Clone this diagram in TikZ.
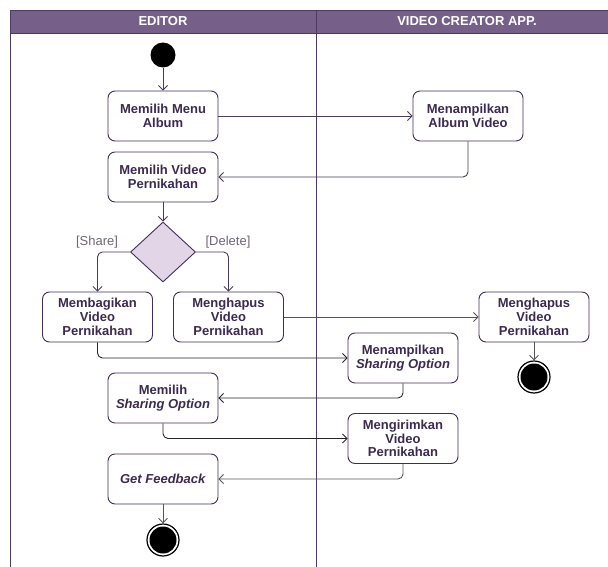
\documentclass[tikz,border=0pt]{standalone}
\usepackage{fontspec}
\setmainfont{Liberation Sans}
\usetikzlibrary{arrows.meta,shapes.geometric}

\definecolor{headfill}{HTML}{76608A}
\definecolor{lanec}{HTML}{4E3B63}
\definecolor{boxc}{HTML}{432D57}
\definecolor{txtc}{HTML}{3D2A50}
\definecolor{diafill}{HTML}{E1D5E7}
\definecolor{lineP}{HTML}{4A3A5C}
\definecolor{lineK}{HTML}{262626}
\definecolor{lineG}{HTML}{555555}
\definecolor{labc}{HTML}{6E6478}

\tikzset{
  box/.style={draw=boxc, line width=0.9pt, rounded corners=7pt, fill=white,
    minimum width=110pt, minimum height=50pt, inner sep=0pt, align=center,
    text=txtc, font=\bfseries\fontsize{13}{13.8}\selectfont},
  decision/.style={draw=boxc, line width=0.9pt, fill=diafill, diamond,
    minimum width=65pt, minimum height=60pt, inner sep=0pt},
  startdot/.style={circle, fill=black, minimum size=25pt, inner sep=0pt},
  enddot/.style={circle, draw=black, line width=1.2pt, fill=white,
    minimum size=32pt, inner sep=0pt,
    path picture={\fill[black] (path picture bounding box.center) circle (13.5pt);}},
  conn/.style={line width=0.9pt, rounded corners=5pt,
    -{Straight Barb[length=4.5pt,width=9pt,line width=0.9pt]}},
  guard/.style={text=labc, font=\fontsize{13}{14}\selectfont, inner sep=0pt},
  lanehead/.style={text=white, font=\bfseries\fontsize{13}{14}\selectfont, inner sep=0pt}
}

\begin{document}
\begin{tikzpicture}[x=1pt,y=-1pt]
\useasboundingbox (0,0) rectangle (608,567);

% swimlanes
\fill[headfill] (10,10) rectangle (620,33);
\draw[lanec, line width=0.9pt] (10,567) -- (10,10) -- (620,10);
\draw[lanec, line width=0.9pt] (10,33) -- (620,33);
\draw[lanec, line width=0.9pt] (316,10) -- (316,567);
\node[lanehead] (h1) at (163,21.5) {EDITOR};
\node[lanehead] (h2) at (467,21.5) {VIDEO CREATOR APP.};

% activities
\node[startdot] (s) at (163,55) {};
\node[box] (a1) at (163,116) {Memilih Menu\\Album};
\node[box] (a2) at (468,116) {Menampilkan\\Album Video};
\node[box] (a3) at (163,177) {Memilih Video\\Pernikahan};
\node[decision] (d) at (163,252) {};
\node[box] (a4) at (97.5,317) {Membagikan\\Video\\Pernikahan};
\node[box] (a5) at (228.5,317) {Menghapus\\Video\\Pernikahan};
\node[box] (a6) at (534,317) {Menghapus\\Video\\Pernikahan};
\node[enddot] (e1) at (534,377) {};
\node[box] (a7) at (403,358) {Menampilkan\\\textit{Sharing Option}};
\node[box] (a8) at (163,398) {Memilih\\\textit{Sharing Option}};
\node[box] (a9) at (403,438.5) {Mengirimkan\\Video\\Pernikahan};
\node[box] (a10) at (163,479) {\textit{Get Feedback}};
\node[enddot] (e2) at (163,540) {};

% guards
\node[guard] (g1) at (97,242) {[Share]};
\node[guard] (g2) at (228,242) {[Delete]};

% flows
\draw[conn, lineP] (s) -- (a1);
\draw[conn, lineP] (a1) -- (a2);
\draw[conn, lineP] (a2.south) |- (a3.east);
\draw[conn, lineP] (a3) -- (d);
\draw[conn, lineP] (d.west) -| (a4.north);
\draw[conn, lineP] (d.east) -| (a5.north);
\draw[conn, lineG] (a5) -- (a6);
\draw[conn, lineG] (a6) -- (e1);
\draw[conn, lineK] (a4.south) |- (a7.west);
\draw[conn, lineK] (a7.south) |- (a8.east);
\draw[conn, lineK] (a8.south) |- (a9.west);
\draw[conn, lineG] (a9.south) |- (a10.east);
\draw[conn, lineG] (a10) -- (e2);
\end{tikzpicture}
\end{document}
